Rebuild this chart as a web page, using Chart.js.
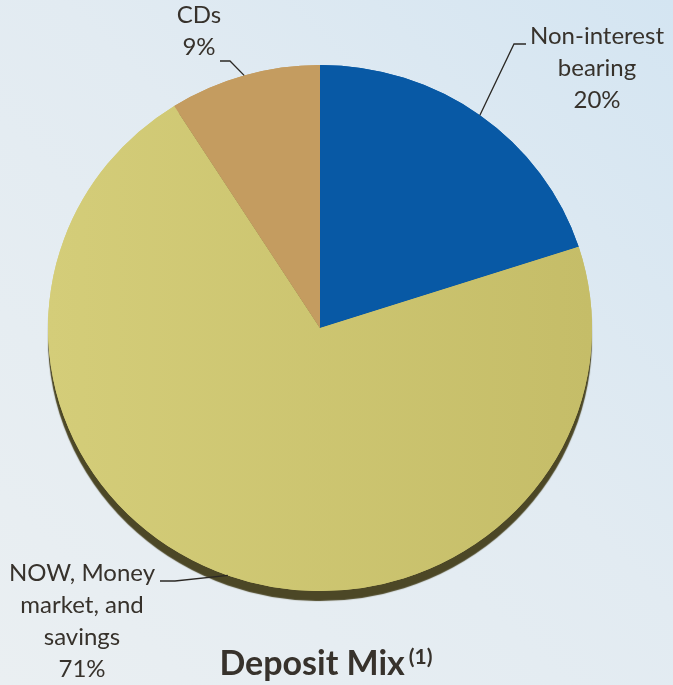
<!DOCTYPE html>
<html>
<head>
<meta charset="utf-8">
<script src="https://cdn.jsdelivr.net/npm/chart.js@4/dist/chart.umd.min.js"></script>
<style>
  html, body { margin: 0; padding: 0; }
  body { width: 673px; height: 685px; overflow: hidden;
         background: linear-gradient(225deg, #d4e5f2 0%, #e2ebf2 45%, #eaeff2 100%); }
  #wrap { position: relative; width: 673px; height: 685px; }
  canvas { display: block; }
</style>
</head>
<body>
<div id="wrap"><canvas id="c" width="673" height="685"></canvas></div>
<script>
// ---- data ----
const categories = ['Non-interest bearing', 'NOW, Money market, and savings', 'CDs'];
const shares = [20, 71, 9];
const labelLines = [['Non-interest', 'bearing'], ['NOW, Money', 'market, and', 'savings'], ['CDs']];
const pctLabels = ['20%', '71%', '9%'];
const sliceColors = ['#0859a5', null, '#c49c60'];
const titleText = 'Deposit Mix';
const titleNote = '(1)';

// ---- layout (annotation placement, not data) ----
const SY = 0.967;           // vertical squash of the pie (slight tilt)
const TEXT_COLOR = '#37322c';
const LABEL_FONT = '24px Lato';
const LINE_H = 32;
const labelLayout = [
  { cx: 597, y0: 44,  elbow: [514, 44],  end: [526, 44] },
  { cx: 82,  y0: 581, elbow: [175, 581], end: [160, 581] },
  { cx: 199, y0: 23,  elbow: [230, 61],  end: [220, 61] }
];

function yellowFill(c) {
  const chart = c.chart, area = chart.chartArea;
  if (!area) return '#cec672';
  const g = chart.ctx.createLinearGradient(area.left, 0, area.right, 0);
  g.addColorStop(0, '#d4cd79');
  g.addColorStop(1, '#c5bd68');
  return g;
}

const pieDecor = {
  id: 'pieDecor',
  beforeDatasetsDraw(chart) {
    const ctx = chart.ctx;
    const arcs = chart.getDatasetMeta(0).data;
    const cx = arcs[0].x, cy = arcs[0].y;
    ctx.save();
    ctx.translate(cx, cy); ctx.scale(1, SY); ctx.translate(-cx, -cy);
    // dark rim (3D side) under the pie
    arcs.forEach(a => {
      ctx.save();
      ctx.shadowColor = '#4c4726';
      ctx.shadowOffsetY = 10;
      ctx.shadowBlur = 1;
      a.draw(ctx);
      ctx.restore();
    });
  },
  afterDatasetsDraw(chart) {
    chart.ctx.restore();
  },
  afterDraw(chart) {
    const ctx = chart.ctx;
    const arcs = chart.getDatasetMeta(0).data;
    ctx.save();
    ctx.fillStyle = TEXT_COLOR;
    ctx.strokeStyle = '#2b2824';
    ctx.lineWidth = 1.3;
    arcs.forEach((a, i) => {
      const mid = (a.startAngle + a.endAngle) / 2;
      const ax = a.x + a.outerRadius * Math.cos(mid);
      const ay = a.y + a.outerRadius * Math.sin(mid) * SY;
      const L = labelLayout[i];
      ctx.beginPath();
      ctx.moveTo(ax, ay);
      ctx.lineTo(L.elbow[0], L.elbow[1]);
      ctx.lineTo(L.end[0], L.end[1]);
      ctx.stroke();
      ctx.font = LABEL_FONT;
      ctx.textAlign = 'center';
      ctx.textBaseline = 'alphabetic';
      const lines = labelLines[i].concat([pctLabels[i]]);
      lines.forEach((t, k) => ctx.fillText(t, L.cx, L.y0 + k * LINE_H));
    });
    // title
    ctx.textAlign = 'left';
    ctx.font = 'bold 34px Lato';
    const tw = ctx.measureText(titleText).width;
    ctx.font = 'bold 21px Lato';
    const nw = ctx.measureText(titleNote).width;
    const x0 = 326 - (tw + 4 + nw) / 2;
    ctx.font = 'bold 34px Lato';
    ctx.fillText(titleText, x0, 675);
    ctx.font = 'bold 21px Lato';
    ctx.fillText(titleNote, x0 + tw + 4, 664);
    ctx.restore();
  }
};

new Chart(document.getElementById('c'), {
  type: 'pie',
  data: {
    labels: categories,
    datasets: [{
      data: shares,
      backgroundColor: c => c.dataIndex === 1 ? yellowFill(c) : sliceColors[c.dataIndex],
      borderWidth: 0,
      hoverOffset: 0,
      clip: false
    }]
  },
  options: {
    responsive: false,
    animation: false,
    radius: 272,
    rotation: 0,
    layout: { padding: { left: 47, right: 80, top: 55, bottom: 84 } },
    plugins: { legend: { display: false }, tooltip: { enabled: false }, title: { display: false } },
    events: []
  },
  plugins: [pieDecor]
});
</script>
</body>
</html>
